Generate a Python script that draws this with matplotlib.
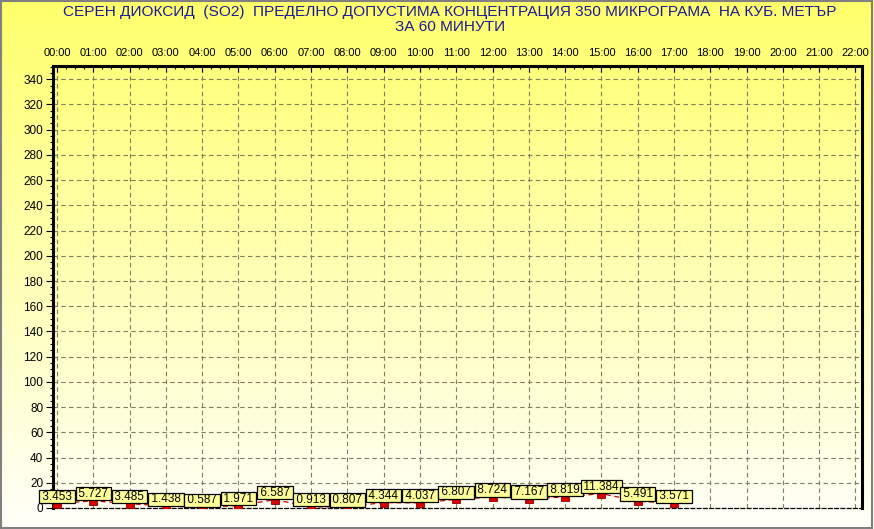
import numpy as np
import matplotlib.pyplot as plt
from matplotlib.patches import Rectangle
from matplotlib.ticker import MultipleLocator

# hourly values (micrograms / m3)
hours = list(range(18))
values = [3.453, 5.727, 3.485, 1.438, 0.587, 1.971, 6.587, 0.913, 0.807,
          4.344, 4.037, 6.807, 8.724, 7.167, 8.819, 11.384, 5.491, 3.571]
tick_hours = list(range(23))
tick_labels = ["%02d:00" % h for h in tick_hours]
title = ("СЕРЕН ДИОКСИД  (SO2)  ПРЕДЕЛНО ДОПУСТИМА КОНЦЕНТРАЦИЯ 350 МИКРОГРАМА  НА КУБ. МЕТЪР\n"
         "ЗА 60 МИНУТИ")

plt.rcParams['font.family'] = ['Liberation Sans', 'DejaVu Sans']

fig = plt.figure(figsize=(8.74, 5.29), dpi=100)

# yellow -> white background gradient over the whole picture
bg = fig.add_axes([0, 0, 1, 1], zorder=-10)
top = np.array([1.0, 1.0, 0.42])
bottom = np.array([1.0, 1.0, 0.98])
t = np.linspace(0, 1, 256)[:, None]
grad = (top * (1 - t) + bottom * t)[:, None, :]
bg.imshow(grad, aspect='auto', extent=[0, 1, 0, 1])
bg.axis('off')
fig.patches.append(Rectangle((0.001, 0.002), 0.997, 0.996, transform=fig.transFigure,
                             fill=False, edgecolor='#808080', linewidth=1.5))

ax = fig.add_axes([53 / 874, 21 / 529, 809 / 874, 442 / 529])
ax.patch.set_alpha(0)

ax.plot(hours, values, color='#cc0000', linestyle=(0, (4, 3)), linewidth=0.9, zorder=3)
ax.plot(hours, values, linestyle='none', marker='s', markersize=6,
        markerfacecolor='#dd0000', markeredgecolor='#880000', markeredgewidth=0.6, zorder=4)

for h, v in zip(hours, values):
    ax.annotate("\u2009%.3f\u2009" % v, (h, v), xytext=(0, 7), textcoords='offset pixels',
                ha='center', va='center', fontsize=8.5, color='black', zorder=5,
                bbox=dict(boxstyle='square,pad=0.05', facecolor='#ffff99',
                          edgecolor='black', linewidth=0.9))

ax.set_xlim(-0.11, 22.18)
ax.set_ylim(0, 350.5)
ax.set_xticks(tick_hours)
ax.set_xticklabels(tick_labels)
ax.xaxis.set_minor_locator(MultipleLocator(0.25))
ax.set_yticks(range(0, 341, 20))
ax.yaxis.set_minor_locator(MultipleLocator(5))
ax.xaxis.tick_top()
ax.tick_params(axis='x', which='both', direction='in', labelsize=8, pad=6, length=4, width=0.8)
ax.tick_params(axis='x', which='minor', length=2)
ax.tick_params(axis='y', which='major', direction='out', labelsize=8.5, length=5, width=0.8, pad=2)
ax.tick_params(axis='y', which='minor', direction='out', length=2.5, width=0.8)

ax.grid(True, which='major', color='#7f7f60', linestyle=(0, (4, 3)), linewidth=0.8)

for side in ['left', 'top', 'right']:
    ax.spines[side].set_linewidth(2.2)
    ax.spines[side].set_color('black')
ax.spines['bottom'].set_linestyle((0, (3, 2)))
ax.spines['bottom'].set_linewidth(0.9)

fig.text(0.515, 0.99, title, ha='center', va='top', fontsize=11.1, color='#1a1a99',
         linespacing=1.1, family=['Liberation Sans Narrow', 'Liberation Sans', 'DejaVu Sans'])

fig.savefig('out.png', dpi=100)
